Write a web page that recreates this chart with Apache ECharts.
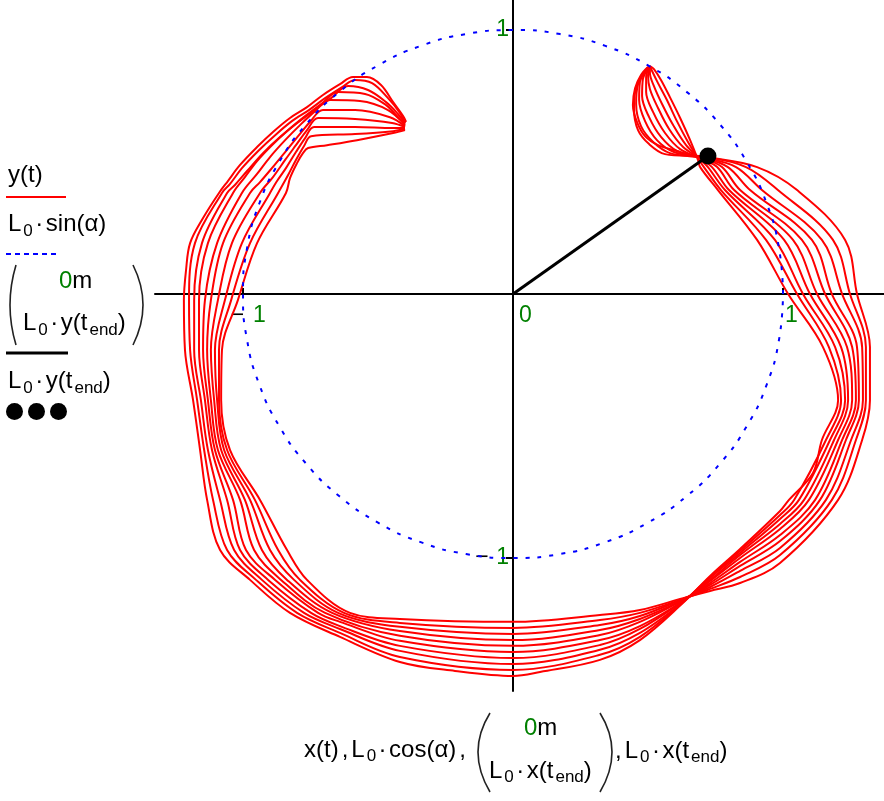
<!DOCTYPE html>
<html><head><meta charset="utf-8">
<script src="https://cdn.jsdelivr.net/npm/echarts@6/dist/echarts.min.js"></script>
<style>html,body{margin:0;padding:0;background:#fff}#c{width:884px;height:801px}</style>
</head><body><div id="c"></div>
<script>
// ---- red trajectory passes x(t), y(t) ----
const pass1 = [[-0.396,0.652],[-0.407,0.674],[-0.444,0.727],[-0.489,0.792],[-0.541,0.822],[-0.593,0.822],[-0.641,0.795],[-0.704,0.754],[-0.763,0.708],[-0.826,0.667],[-0.889,0.614],[-0.948,0.557],[-1.011,0.489],[-1.056,0.428],[-1.089,0.383],[-1.148,0.288],[-1.196,0.193],[-1.211,0.091],[-1.219,-0.023],[-1.215,-0.212],[-1.185,-0.402],[-1.159,-0.591],[-1.133,-0.780],[-1.085,-0.970],[-0.974,-1.083],[-0.826,-1.208],[-0.641,-1.299],[-0.419,-1.394],[-0.215,-1.428],[0,-1.447],[0.100,-1.432],[0.322,-1.386],[0.470,-1.311],[0.630,-1.170],[0.730,-1.068],[0.841,-0.966],[0.989,-0.822],[1.022,-0.780],[1.111,-0.678],[1.144,-0.553],[1.204,-0.402],[1.148,-0.201],[1.019,0],[0.904,0.205],[0.759,0.394],[0.693,0.481],[0.685,0.508],[0.656,0.583],[0.619,0.667],[0.581,0.746],[0.548,0.811],[0.522,0.852],[0.507,0.864]];
const pass2 = [[-0.400,0.648],[-0.419,0.686],[-0.463,0.742],[-0.522,0.799],[-0.585,0.811],[-0.633,0.784],[-0.696,0.742],[-0.756,0.697],[-0.819,0.655],[-0.881,0.602],[-0.941,0.545],[-1.004,0.477],[-1.048,0.417],[-1.078,0.383],[-1.178,0.193],[-1.200,-0.023],[-1.196,-0.212],[-1.170,-0.402],[-1.144,-0.591],[-1.111,-0.780],[-1.059,-0.970],[-0.952,-1.083],[-0.800,-1.208],[-0.641,-1.284],[-0.419,-1.375],[0,-1.424],[0.322,-1.367],[0.470,-1.299],[0.630,-1.167],[0.730,-1.072],[0.841,-0.973],[0.989,-0.837],[1.041,-0.780],[1.159,-0.553],[1.215,-0.402],[1.170,-0.201],[1.052,0],[0.937,0.205],[0.770,0.394],[0.707,0.481],[0.689,0.508],[0.648,0.576],[0.607,0.655],[0.570,0.735],[0.537,0.799],[0.515,0.845],[0.507,0.864]];
const pass3 = [[-0.400,0.648],[-0.426,0.682],[-0.470,0.727],[-0.537,0.773],[-0.611,0.788],[-0.674,0.742],[-0.741,0.693],[-0.804,0.644],[-0.867,0.591],[-0.926,0.534],[-0.985,0.466],[-1.030,0.413],[-1.059,0.383],[-1.152,0.193],[-1.181,-0.023],[-1.181,-0.212],[-1.156,-0.402],[-1.130,-0.591],[-1.085,-0.780],[-1.033,-0.970],[-0.930,-1.083],[-0.774,-1.208],[-0.641,-1.269],[-0.419,-1.352],[0,-1.402],[0.322,-1.348],[0.470,-1.284],[0.630,-1.167],[0.730,-1.076],[0.841,-0.981],[0.989,-0.852],[1.059,-0.780],[1.174,-0.553],[1.230,-0.402],[1.193,-0.201],[1.074,0],[0.970,0.205],[0.785,0.394],[0.722,0.481],[0.693,0.511],[0.641,0.564],[0.593,0.640],[0.552,0.720],[0.522,0.788],[0.507,0.837],[0.507,0.864]];
const pass4 = [[-0.400,0.644],[-0.433,0.678],[-0.470,0.716],[-0.548,0.758],[-0.648,0.765],[-0.707,0.723],[-0.770,0.674],[-0.833,0.621],[-0.893,0.564],[-0.948,0.504],[-0.993,0.443],[-1.037,0.383],[-1.130,0.193],[-1.163,-0.023],[-1.163,-0.212],[-1.141,-0.402],[-1.115,-0.591],[-1.059,-0.780],[-1.011,-0.970],[-0.907,-1.083],[-0.748,-1.208],[-0.641,-1.258],[-0.419,-1.333],[0,-1.379],[0.322,-1.330],[0.470,-1.269],[0.630,-1.163],[0.730,-1.083],[0.841,-0.989],[0.989,-0.871],[1.078,-0.780],[1.189,-0.553],[1.241,-0.402],[1.215,-0.201],[1.100,0],[1.004,0.205],[0.800,0.394],[0.737,0.481],[0.696,0.511],[0.630,0.557],[0.578,0.625],[0.537,0.705],[0.507,0.777],[0.500,0.830],[0.507,0.864]];
const pass5 = [[-0.400,0.640],[-0.463,0.697],[-0.567,0.731],[-0.678,0.735],[-0.733,0.693],[-0.789,0.640],[-0.844,0.583],[-0.900,0.519],[-0.948,0.455],[-1.004,0.383],[-1.096,0.193],[-1.141,-0.023],[-1.148,-0.212],[-1.130,-0.402],[-1.104,-0.591],[-1.037,-0.780],[-0.989,-0.970],[-0.881,-1.083],[-0.722,-1.208],[-0.641,-1.242],[-0.419,-1.314],[0,-1.356],[0.322,-1.311],[0.470,-1.258],[0.630,-1.163],[0.730,-1.087],[0.841,-1.000],[0.989,-0.890],[1.096,-0.780],[1.204,-0.553],[1.256,-0.402],[1.237,-0.201],[1.126,0],[1.037,0.205],[0.819,0.394],[0.756,0.481],[0.700,0.511],[0.619,0.549],[0.563,0.610],[0.519,0.689],[0.493,0.765],[0.493,0.822],[0.507,0.864]];
const pass6 = [[-0.400,0.636],[-0.456,0.670],[-0.585,0.697],[-0.704,0.697],[-0.752,0.652],[-0.796,0.598],[-0.844,0.538],[-0.893,0.477],[-0.937,0.424],[-0.974,0.383],[-1.074,0.193],[-1.119,-0.023],[-1.133,-0.212],[-1.119,-0.402],[-1.093,-0.591],[-1.011,-0.780],[-0.959,-0.970],[-0.859,-1.083],[-0.696,-1.208],[-0.419,-1.295],[0,-1.333],[0.322,-1.292],[0.470,-1.242],[0.630,-1.159],[0.730,-1.095],[0.841,-1.015],[0.989,-0.913],[1.119,-0.780],[1.219,-0.553],[1.270,-0.402],[1.256,-0.201],[1.156,0],[1.070,0.205],[0.841,0.394],[0.774,0.481],[0.704,0.515],[0.607,0.542],[0.548,0.595],[0.504,0.670],[0.478,0.750],[0.481,0.814],[0.504,0.860]];
const pass7 = [[-0.400,0.633],[-0.448,0.648],[-0.585,0.663],[-0.722,0.667],[-0.763,0.621],[-0.804,0.564],[-0.844,0.508],[-0.889,0.443],[-0.937,0.383],[-1.041,0.193],[-1.093,-0.023],[-1.119,-0.212],[-1.107,-0.402],[-1.081,-0.591],[-0.993,-0.780],[-0.930,-0.970],[-0.837,-1.083],[-0.670,-1.208],[-0.419,-1.277],[0,-1.311],[0.322,-1.273],[0.470,-1.231],[0.630,-1.159],[0.730,-1.102],[0.841,-1.030],[0.989,-0.936],[1.137,-0.780],[1.233,-0.553],[1.281,-0.402],[1.274,-0.201],[1.181,0],[1.107,0.205],[0.878,0.394],[0.796,0.481],[0.707,0.515],[0.596,0.538],[0.533,0.583],[0.489,0.655],[0.467,0.735],[0.470,0.803],[0.504,0.860]];
const pass8 = [[-0.400,0.629],[-0.444,0.629],[-0.585,0.633],[-0.737,0.633],[-0.770,0.591],[-0.804,0.538],[-0.841,0.477],[-0.874,0.428],[-0.900,0.383],[-1.004,0.193],[-1.067,-0.023],[-1.104,-0.212],[-1.096,-0.402],[-1.070,-0.591],[-0.974,-0.780],[-0.900,-0.970],[-0.811,-1.083],[-0.648,-1.208],[-0.419,-1.261],[0,-1.288],[0.322,-1.254],[0.470,-1.220],[0.630,-1.155],[0.730,-1.110],[0.841,-1.049],[0.989,-0.962],[1.159,-0.780],[1.252,-0.553],[1.296,-0.402],[1.293,-0.201],[1.219,0],[1.144,0.205],[0.922,0.394],[0.826,0.481],[0.711,0.515],[0.581,0.534],[0.519,0.576],[0.474,0.636],[0.456,0.720],[0.463,0.795],[0.500,0.860]];
const pass9 = [[-0.400,0.625],[-0.444,0.617],[-0.585,0.606],[-0.748,0.598],[-0.774,0.561],[-0.804,0.508],[-0.833,0.451],[-0.870,0.383],[-0.974,0.193],[-1.044,-0.023],[-1.089,-0.212],[-1.089,-0.402],[-1.059,-0.591],[-0.956,-0.780],[-0.870,-0.970],[-0.789,-1.083],[-0.626,-1.208],[-0.419,-1.246],[0,-1.265],[0.322,-1.235],[0.470,-1.208],[0.630,-1.155],[0.730,-1.117],[0.841,-1.072],[0.989,-0.989],[1.181,-0.780],[1.270,-0.553],[1.307,-0.402],[1.307,-0.201],[1.248,0],[1.185,0.205],[0.981,0.394],[0.863,0.481],[0.715,0.519],[0.563,0.530],[0.504,0.568],[0.463,0.621],[0.448,0.701],[0.456,0.784],[0.500,0.860]];
const pass10 = [[-0.400,0.621],[-0.444,0.610],[-0.578,0.583],[-0.689,0.564],[-0.759,0.553],[-0.778,0.534],[-0.800,0.496],[-0.826,0.439],[-0.841,0.383],[-0.948,0.193],[-1.019,-0.023],[-1.078,-0.212],[-1.081,-0.402],[-1.048,-0.591],[-0.937,-0.780],[-0.837,-0.970],[-0.763,-1.083],[-0.604,-1.208],[-0.419,-1.231],[0,-1.242],[0.322,-1.216],[0.470,-1.197],[0.630,-1.152],[0.730,-1.125],[0.841,-1.095],[0.989,-1.019],[1.204,-0.780],[1.293,-0.553],[1.322,-0.402],[1.322,-0.201],[1.274,0],[1.230,0.205],[1.052,0.394],[0.904,0.481],[0.719,0.519],[0.656,0.527],[0.607,0.542],[0.537,0.564],[0.489,0.598],[0.459,0.652],[0.444,0.716],[0.452,0.780],[0.474,0.830],[0.500,0.860]];

// ---- L0 circle samples: L0·cos(α), L0·sin(α) ----
const circleCos = [1,0.985,0.940,0.866,0.766,0.643,0.5,0.342,0.174,0,-0.174,-0.342,-0.5,-0.643,-0.766,-0.866,-0.940,-0.985,-1,-0.985,-0.940,-0.866,-0.766,-0.643,-0.5,-0.342,-0.174,0,0.174,0.342,0.5,0.643,0.766,0.866,0.940,0.985,1];
const circleSin = [0,0.174,0.342,0.5,0.643,0.766,0.866,0.940,0.985,1,0.985,0.940,0.866,0.766,0.643,0.5,0.342,0.174,0,-0.174,-0.342,-0.5,-0.643,-0.766,-0.866,-0.940,-0.985,-1,-0.985,-0.940,-0.866,-0.766,-0.643,-0.5,-0.342,-0.174,0];

// ---- end position L0·x(t_end), L0·y(t_end) ----
const endX = 0.722;
const endY = 0.523;

// ---- axis ticks ----
const xTickValues = [-1, 0, 1];
const yTickValues = [-1, 1];

const FONT = '"Liberation Sans", Arial, sans-serif';
const passes = [pass1,pass2,pass3,pass4,pass5,pass6,pass7,pass8,pass9,pass10];
const circleData = circleCos.map((c, i) => [c, circleSin[i]]);

const chart = echarts.init(document.getElementById('c'), null, {renderer: 'canvas'});

const series = passes.map(p => ({
  type: 'line', data: p, showSymbol: false, smooth: 0.35, silent: true,
  lineStyle: {color: '#ff0000', width: 2}, z: 2
}));
series.push({
  type: 'line', data: circleData, showSymbol: false, smooth: true, silent: true,
  lineStyle: {color: '#0000ff', width: 2, type: [4, 8]}, z: 3
});
series.push({
  type: 'line', data: [[0, 0], [endX, endY]], showSymbol: false, silent: true,
  lineStyle: {color: '#000', width: 3}, z: 4
});
series.push({
  type: 'scatter', data: [[endX, endY]], symbolSize: 17, silent: true,
  itemStyle: {color: '#000', opacity: 1}, z: 5
});

const AR = {
  g: {color: '#008000', fontSize: 23, fontFamily: FONT},
  xm: {color: '#000', fontSize: 23, fontFamily: FONT, padding: [0, 8.8, 0, 10.6]},
  x0: {color: '#008000', fontSize: 23, fontFamily: FONT, padding: [0, 0, 0, 25]},
  x1: {color: '#008000', fontSize: 23, fontFamily: FONT, padding: [0, 0, 0, 16.7]},
  ym: {color: '#000', fontSize: 23, fontFamily: FONT, padding: [0, 7.5, 0, 0]}
};

const GR = {
  n: {fontSize: 24, fontFamily: FONT, fill: '#000'},
  g: {fontSize: 24, fontFamily: FONT, fill: '#008000'},
  s: {fontSize: 17, fontFamily: FONT, fill: '#000', padding: [13, 0, 0, 2]},
  d: {fontSize: 24, fontFamily: FONT, fill: '#000', padding: [0, 2.5, 0, 2.5]},
  c: {fontSize: 24, fontFamily: FONT, fill: '#000', padding: [0, 3, 0, 3]}
};
function txt(x, y, text) {
  return {type: 'text', x: x, y: y, silent: true,
    style: {text: text, rich: GR, fontSize: 24, fontFamily: FONT, fill: '#000', align: 'left', verticalAlign: 'middle'}};
}
function paren(x1, y1, xm, ym, x2, y2) {
  return {type: 'bezierCurve', silent: true,
    shape: {x1: x1, y1: y1, x2: x2, y2: y2, cpx1: 2 * xm - (x1 + x2) / 2, cpy1: 2 * ym - (y1 + y2) / 2},
    style: {stroke: '#222', lineWidth: 1.6, fill: null}};
}
const LSUB = '{n|L}{s|0}{d|·}';
const graphic = [
  txt(8, 175, '{n|y(t)}'),
  {type: 'line', silent: true, shape: {x1: 6, y1: 197, x2: 66, y2: 197}, style: {stroke: '#ff0000', lineWidth: 2}},
  txt(8, 224.7, LSUB + '{n|sin(α)}'),
  {type: 'line', silent: true, shape: {x1: 6, y1: 254, x2: 58, y2: 254}, style: {stroke: '#0000ff', lineWidth: 2, lineDash: [5, 4]}},
  paren(16, 265, 10, 305, 16, 345),
  txt(59, 281, '{g|0}{n|m}'),
  txt(23, 323.7, LSUB + '{n|y(t}{s|end}{n|)}'),
  paren(133, 265, 143, 305, 133, 345),
  {type: 'line', silent: true, shape: {x1: 6, y1: 353, x2: 68, y2: 353}, style: {stroke: '#000', lineWidth: 3}},
  txt(8, 381.7, LSUB + '{n|y(t}{s|end}{n|)}'),
  {type: 'circle', silent: true, shape: {cx: 14.5, cy: 411.5, r: 8.5}, style: {fill: '#000'}},
  {type: 'circle', silent: true, shape: {cx: 36.5, cy: 411.5, r: 8.5}, style: {fill: '#000'}},
  {type: 'circle', silent: true, shape: {cx: 58.5, cy: 411.5, r: 8.5}, style: {fill: '#000'}},
  // x-axis title
  txt(304, 750, '{n|x(t)}{c|,}' + LSUB + '{n|cos(α)}{c|,}'),
  paren(490, 713, 478, 752, 490, 792),
  txt(524, 728.5, '{g|0}{n|m}'),
  txt(489, 771, LSUB + '{n|x(t}{s|end}{n|)}'),
  paren(600, 713, 612, 752, 600, 792),
  txt(612, 751, '{c|,}' + LSUB + '{n|x(t}{s|end}{n|)}')
];

const option = {
  animation: false,
  backgroundColor: '#fff',
  grid: {left: 155, top: 0, right: 0, bottom: 110, containLabel: false},
  xAxis: {
    type: 'value', min: -1.326, max: 1.374, position: 'bottom', offset: -397,
    axisLine: {onZero: false, lineStyle: {color: '#000', width: 2}},
    axisTick: {show: true, customValues: [-1, 1], inside: true, length: 6, lineStyle: {color: '#000', width: 2}},
    axisLabel: {
      customValues: xTickValues, margin: 10.5, align: 'center',
      formatter: v => v < 0 ? '{xm|−}{g|1}' : (v === 0 ? '{x0|0}' : '{x1|1}'),
      rich: AR
    },
    splitLine: {show: false}
  },
  yAxis: {
    type: 'value', min: -1.504, max: 1.114, position: 'left', offset: -358,
    axisLine: {onZero: false, lineStyle: {color: '#000', width: 2}},
    axisTick: {show: true, customValues: yTickValues, length: 7, lineStyle: {color: '#000', width: 2}},
    axisLabel: {
      customValues: yTickValues, margin: 4,
      formatter: v => v < 0 ? '{ym|−}{g|1}' : '{g|1}',
      rich: AR
    },
    splitLine: {show: false}
  },
  graphic: graphic,
  series: series
};
chart.setOption(option);
</script>
</body></html>
